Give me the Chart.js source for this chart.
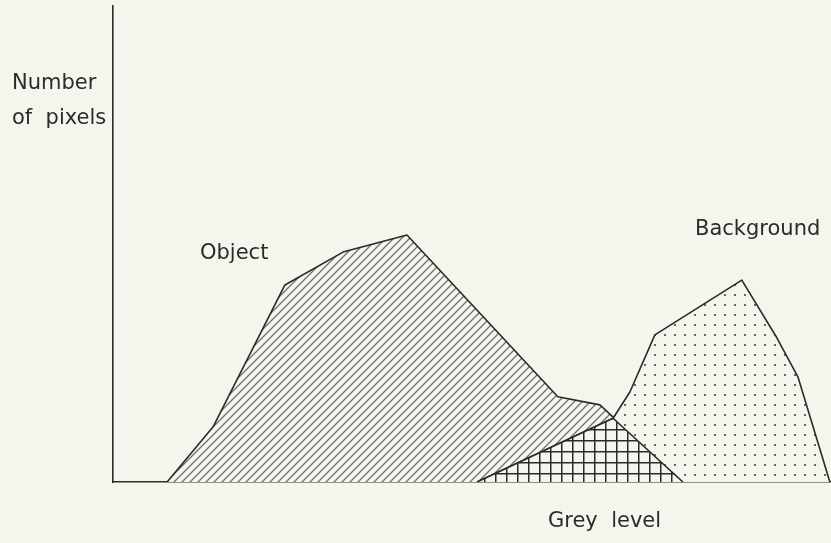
<!DOCTYPE html>
<html>
<head>
<meta charset="utf-8">
<script src="https://cdn.jsdelivr.net/npm/chart.js@4.4.1/dist/chart.umd.min.js"></script>
<style>
  html, body { margin: 0; padding: 0; background: #f4f5ec; }
  #wrap { width: 831px; height: 543px; }
</style>
</head>
<body>
<div id="wrap"><canvas id="histChart"></canvas></div>
<script>
// grey level (0-256) vs number of pixels (0-100)
const objectX = [19.3, 35.7, 61.3, 82.0, 104.8, 158.6, 173.6, 203.2];
const objectY = [0, 11.6, 41.4, 48.3, 51.9, 17.9, 16.2, 0];

const backgroundX = [129.8, 178.3, 184.3, 193.2, 224.2, 236.7, 244.2, 255.6];
const backgroundY = [0, 13.4, 18.9, 30.9, 42.4, 30.3, 22.1, 0];

// region where both histograms overlap
const overlapX = [129.8, 178.3, 203.2];
const overlapY = [0, 13.4, 0];

const paper = '#f4f5ec';
const ink = '#2a2a2a';

function toPoints(xs, ys) {
  return xs.map((x, i) => ({ x: x, y: ys[i] }));
}

function hatchPattern() {
  const c = document.createElement('canvas');
  c.width = 8; c.height = 8;
  const g = c.getContext('2d');
  g.fillStyle = paper;
  g.fillRect(0, 0, 8, 8);
  g.strokeStyle = '#707070';
  g.lineWidth = 1.3;
  g.beginPath();
  g.moveTo(-1, 9); g.lineTo(9, -1);
  g.moveTo(-1, 1); g.lineTo(1, -1);
  g.moveTo(7, 9); g.lineTo(9, 7);
  g.stroke();
  return g.createPattern(c, 'repeat');
}

function dotPattern() {
  const c = document.createElement('canvas');
  c.width = 10; c.height = 10;
  const g = c.getContext('2d');
  g.fillStyle = paper;
  g.fillRect(0, 0, 10, 10);
  g.fillStyle = '#444';
  g.beginPath();
  g.arc(5, 5, 1.1, 0, Math.PI * 2);
  g.fill();
  return g.createPattern(c, 'repeat');
}

function gridPattern() {
  const c = document.createElement('canvas');
  c.width = 11; c.height = 11;
  const g = c.getContext('2d');
  g.fillStyle = paper;
  g.fillRect(0, 0, 11, 11);
  g.strokeStyle = '#2a2a2a';
  g.lineWidth = 1.5;
  g.beginPath();
  g.moveTo(0.75, 0); g.lineTo(0.75, 11);
  g.moveTo(0, 0.75); g.lineTo(11, 0.75);
  g.stroke();
  return g.createPattern(c, 'repeat');
}

// free text labels of the sketch
const labels = {
  id: 'sketchLabels',
  afterDraw(chart) {
    const ctx = chart.ctx;
    ctx.save();
    ctx.fillStyle = '#2b2b2b';
    ctx.font = '21px "DejaVu Sans"';
    ctx.textAlign = 'left';
    ctx.textBaseline = 'middle';
    ctx.fillText('Number', 12, 84);
    ctx.fillText('of  pixels', 12, 119);
    ctx.fillText('Object', 200, 254);
    ctx.fillText('Background', 695, 230);
    ctx.fillText('Grey  level', 548, 522);
    ctx.restore();
  }
};

new Chart(document.getElementById('histChart'), {
  type: 'line',
  data: {
    datasets: [
      {
        label: 'Overlap',
        data: toPoints(overlapX, overlapY),
        backgroundColor: gridPattern(),
        borderColor: ink,
        borderWidth: 1.6,
        fill: 'origin',
        order: 0
      },
      {
        label: 'Background',
        data: toPoints(backgroundX, backgroundY),
        backgroundColor: dotPattern(),
        borderColor: ink,
        borderWidth: 1.6,
        fill: 'origin',
        order: 1
      },
      {
        label: 'Object',
        data: toPoints(objectX, objectY),
        backgroundColor: hatchPattern(),
        borderColor: ink,
        borderWidth: 1.6,
        fill: 'origin',
        order: 2
      }
    ]
  },
  options: {
    responsive: true,
    maintainAspectRatio: false,
    animation: false,
    layout: {
      padding: { left: 113, top: 6, right: 0, bottom: 61 }
    },
    elements: {
      point: { radius: 0 },
      line: { tension: 0, borderJoinStyle: 'round' }
    },
    plugins: {
      legend: { display: false },
      tooltip: { enabled: false }
    },
    scales: {
      x: {
        type: 'linear',
        min: 0,
        max: 256,
        ticks: { display: false },
        grid: { display: false, drawTicks: false },
        border: { display: true, color: ink, width: 1.6 }
      },
      y: {
        min: 0,
        max: 100,
        ticks: { display: false },
        grid: { display: false, drawTicks: false },
        border: { display: true, color: ink, width: 1.6 }
      }
    }
  },
  plugins: [labels]
});
</script>
</body>
</html>
